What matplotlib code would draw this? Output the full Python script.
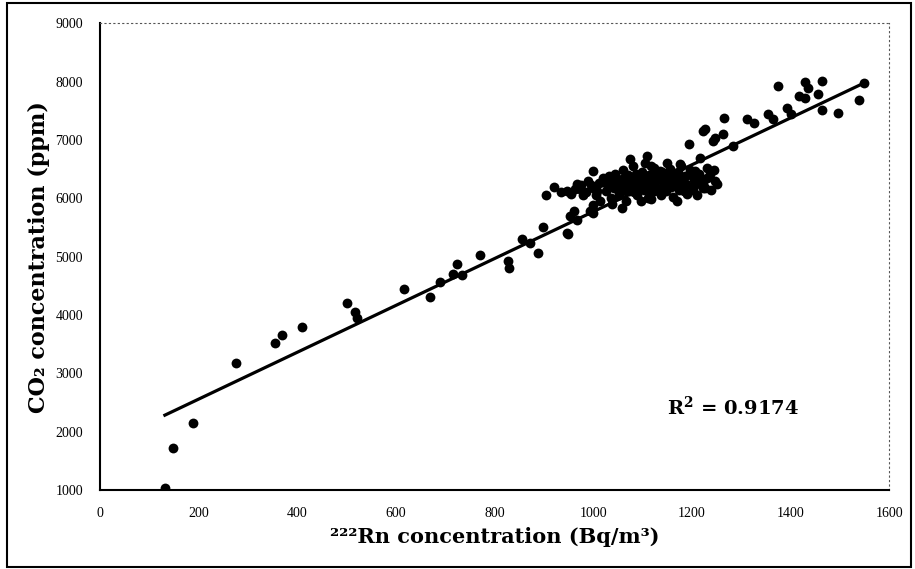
import matplotlib
matplotlib.use("Agg")
import matplotlib.pyplot as plt
from matplotlib.patches import Rectangle

# ---- data ----
rn_low = [132, 148, 189, 276, 355, 369, 410, 501, 517, 521]
co2_low = [1040, 1720, 2150, 3170, 3520, 3650, 3790, 4200, 4050, 3940]

rn_mid = [617, 669, 690, 716, 724, 734, 771, 828, 830, 856, 872, 888, 899,
          947, 949, 953, 960, 967, 994, 1000]
co2_mid = [4440, 4300, 4560, 4710, 4880, 4680, 5020, 4930, 4800, 5310, 5240,
           5070, 5500, 5410, 5390, 5700, 5790, 5620, 5786, 5740]

rn_cluster = [905, 920, 935, 947, 962, 974, 975, 985, 990, 1000, 1000, 1005,
              1012, 1014, 1020, 1025, 1028, 1030, 1035, 1040, 1045, 1050, 1052,
              1058, 1059, 1062, 1066, 1070, 1072, 1075, 1078, 1080, 1084, 1088,
              1092, 1095, 1098, 1102, 1105, 1108, 1109, 1110, 1114, 1116, 1118,
              1120, 1124, 1126, 1130, 1134, 1136, 1138, 1140, 1144, 1148, 1150,
              1154, 1158, 1162, 1165, 1170, 1170, 1174, 1176, 1178, 1182, 1186,
              1190, 1193, 1195, 1200, 1205, 1210, 1211, 1215, 1222, 1230, 1231,
              1238, 1245, 1251,
              955, 968, 980, 995, 1008, 1018, 1032, 1042, 1048, 1056, 1064,
              1068, 1076, 1086, 1090, 1100, 1106, 1112, 1122, 1128, 1132, 1142,
              1146, 1152, 1156, 1160, 1168, 1172, 1180, 1188, 1198, 1203, 1218,
              1226, 1000, 1038, 1060, 1082, 1096, 1116, 1136, 1156, 1184, 1208]
co2_cluster = [6050, 6200, 6100, 6128, 6160, 6162, 6220, 6100, 6300, 6180,
               6470, 6050, 6260, 5957, 6350, 6120, 6333, 6200, 6000, 6280,
               6420, 6150, 6050, 6330, 5840, 6220, 5950, 6400, 6120, 6675,
               6300, 6550, 6200, 6050, 6360, 6260, 6450, 6150, 6600, 6330,
               6726, 6000, 6220, 5991, 6400, 6100, 6520, 6280, 6180, 6350,
               6470, 6050, 6450, 6250, 6130, 6600, 6330, 6200, 6020, 6420,
               6300, 5957, 6150, 6590, 6550, 6250, 6380, 6080, 6932, 6480,
               6200, 6320, 6050, 6419, 6420, 6250, 6350, 6521, 6150, 6480,
               6248,
               6080, 6250, 6050, 6230, 6120, 6280, 6380, 6180, 6320, 6250,
               6150, 6330, 6230, 6420, 6150, 6300, 6220, 6400, 6250, 6380,
               6120, 6330, 6200, 6420, 6280, 6350, 6220, 6450, 6350, 6250,
               6400, 6150, 6320, 6180, 5880, 5900, 6480, 6100, 5950, 6550,
               6150, 6500, 6130, 6250]

rn_high = [1207, 1217, 1223, 1223, 1227, 1237, 1243, 1247, 1247, 1262, 1264,
           1284, 1312, 1325, 1355, 1365, 1375, 1393, 1400, 1416, 1430, 1430,
           1436, 1456, 1464, 1464, 1495, 1538, 1548]
co2_high = [6470, 6692, 6179, 7154, 7188, 6419, 6983, 7034, 6299, 7103, 7376,
            6897, 7359, 7290, 7444, 7359, 7923, 7547, 7444, 7752, 7991, 7718,
            7889, 7786, 8009, 7513, 7462, 7684, 7974]

fit_slope = 4.02
fit_intercept = 1751
fit_range = [132, 1548]
r2_text = "R$^\\mathbf{2}$ = 0.9174"

x_ticks = [0, 200, 400, 600, 800, 1000, 1200, 1400, 1600]
y_ticks = [1000, 2000, 3000, 4000, 5000, 6000, 7000, 8000, 9000]

# ---- figure ----
plt.rcParams['mathtext.fontset'] = 'dejavuserif'
fig = plt.figure(figsize=(9.15, 5.69), dpi=100)
ax = fig.add_axes([0.109, 0.139, 0.863, 0.820])

rn_all = rn_low + rn_mid + rn_cluster + rn_high
co2_all = co2_low + co2_mid + co2_cluster + co2_high
ax.scatter(rn_all, co2_all, s=50, c='black', marker='o', linewidths=0, zorder=3)

fx = fit_range
fy = [fit_slope * v + fit_intercept for v in fx]
ax.plot(fx, fy, color='black', lw=2.3, zorder=4)

ax.text(1150, 2420, r2_text, fontsize=14, fontweight='bold',
        family='DejaVu Serif', ha='left', va='center')

ax.set_xlim(0, 1600)
ax.set_ylim(1000, 9000)
ax.set_xticks(x_ticks)
ax.set_yticks(y_ticks)
ax.tick_params(length=0, labelsize=10, pad=12)
for lab in ax.get_xticklabels() + ax.get_yticklabels():
    lab.set_family('Liberation Serif')

ax.set_xlabel("²²²Rn concentration (Bq/m³)", fontsize=15, fontweight='bold',
              family='DejaVu Serif', labelpad=5)
ax.set_ylabel("CO₂ concentration (ppm)", fontsize=16, fontweight='bold',
              family='DejaVu Serif', labelpad=4)

for s in ['left', 'bottom']:
    ax.spines[s].set_linewidth(1.5)
for s in ['top', 'right']:
    ax.spines[s].set_linestyle((0, (1, 3)))
    ax.spines[s].set_color('#555555')

fig.patches.append(Rectangle((0.008, 0.004), 0.988, 0.99, transform=fig.transFigure,
                             fill=False, edgecolor='black', lw=1.5))

fig.savefig("out.png", dpi=100)
